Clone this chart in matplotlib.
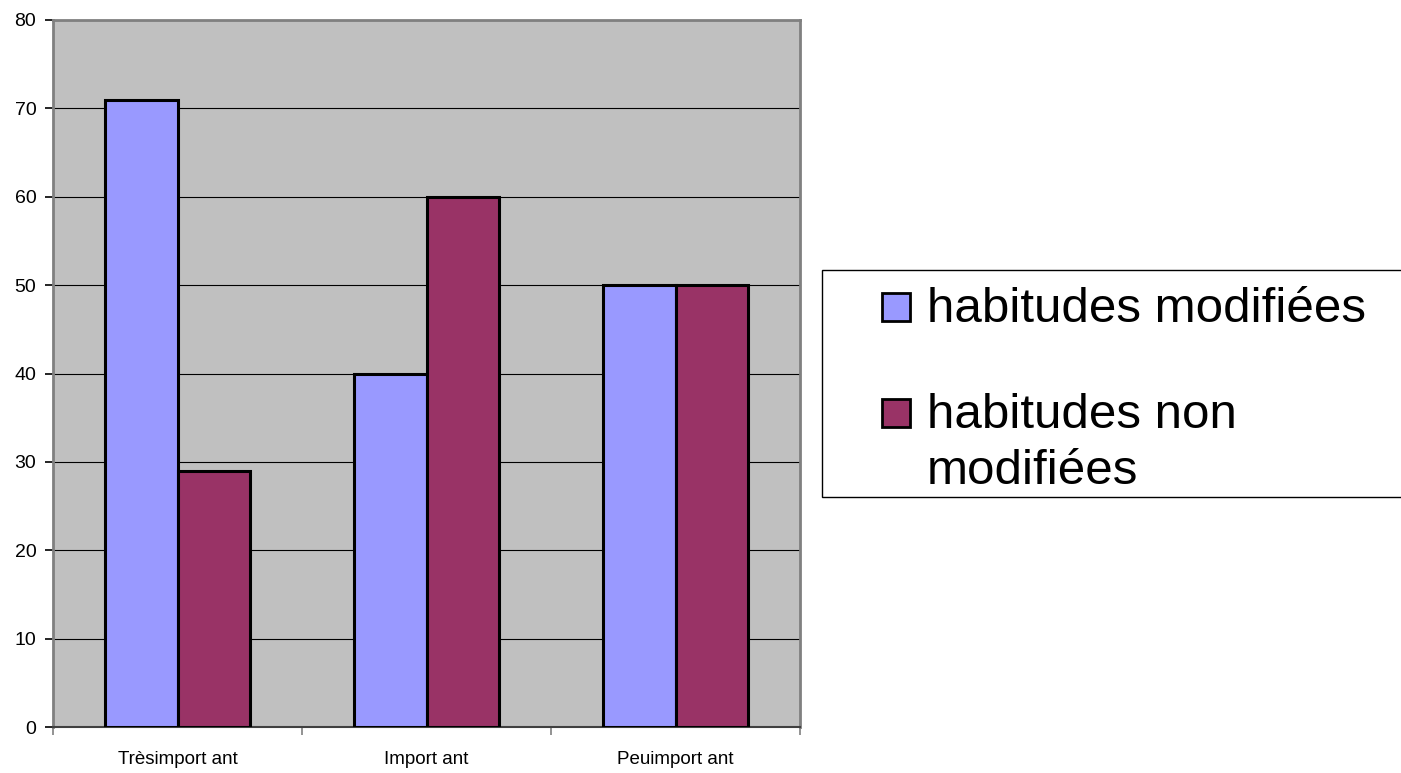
import matplotlib.pyplot as plt
import numpy as np
from matplotlib.patches import Rectangle

categories = ['Trèsimport ant', 'Import ant', 'Peuimport ant']
modifiees = [71, 40, 50]
non_modifiees = [29, 60, 50]
series_labels = ['habitudes modifiées', 'habitudes non\nmodifiées']
colors = ['#9999FF', '#993366']

plt.rcParams['font.family'] = ['Liberation Sans', 'DejaVu Sans']

fig = plt.figure(figsize=(14.01, 7.73), dpi=100)
ax = fig.add_axes([53 / 1401, 46 / 773, 747 / 1401, 707 / 773])
ax.set_facecolor('#C0C0C0')

x = np.arange(len(categories))
w = 0.29
ax.bar(x - w / 2, modifiees, w, color=colors[0], edgecolor='black',
       linewidth=2.2, zorder=3)
ax.bar(x + w / 2, non_modifiees, w, color=colors[1], edgecolor='black',
       linewidth=2.2, zorder=3)

ax.set_xlim(-0.5, 2.5)
ax.set_ylim(0, 80)
ax.set_yticks(np.arange(0, 81, 10))
ax.yaxis.grid(True, color='black', linewidth=0.8, zorder=1)
ax.set_axisbelow(True)

# category labels between boundary ticks
ax.set_xticks([-0.5, 0.5, 1.5, 2.5])
ax.set_xticklabels([])
ax.set_xticks(x, minor=True)
ax.set_xticklabels(categories, minor=True)
ax.tick_params(axis='x', which='minor', length=0, pad=17, labelsize=13.5)
ax.tick_params(axis='x', which='major', length=6, color='#808080', width=1.2)
ax.tick_params(axis='y', length=6, width=1.2, labelsize=14, pad=6)

for s in ['left', 'top', 'right']:
    ax.spines[s].set_color('#808080')
    ax.spines[s].set_linewidth(2)
ax.spines['bottom'].set_color('#404040')
ax.spines['bottom'].set_linewidth(1.5)

# legend drawn in figure pixels
def fx(px):
    return px / 1401

def fy(py):
    return 1 - py / 773

fig.patches.append(Rectangle((fx(822), fy(497)), fx(1401) - fx(822) + 0.01,
                             fy(270) - fy(497), transform=fig.transFigure,
                             facecolor='white', edgecolor='black',
                             linewidth=1))
for i, (lab, c) in enumerate(zip(series_labels, colors)):
    top = 293 + i * 106
    fig.patches.append(Rectangle((fx(882), fy(top + 28)), fx(28), 28 / 773,
                                 transform=fig.transFigure, facecolor=c,
                                 edgecolor='black', linewidth=2))
    fig.text(fx(927), fy(top - 6), lab, fontsize=35.5, va='top', ha='left',
             linespacing=1.3)

fig.savefig('out.png', dpi=100)
